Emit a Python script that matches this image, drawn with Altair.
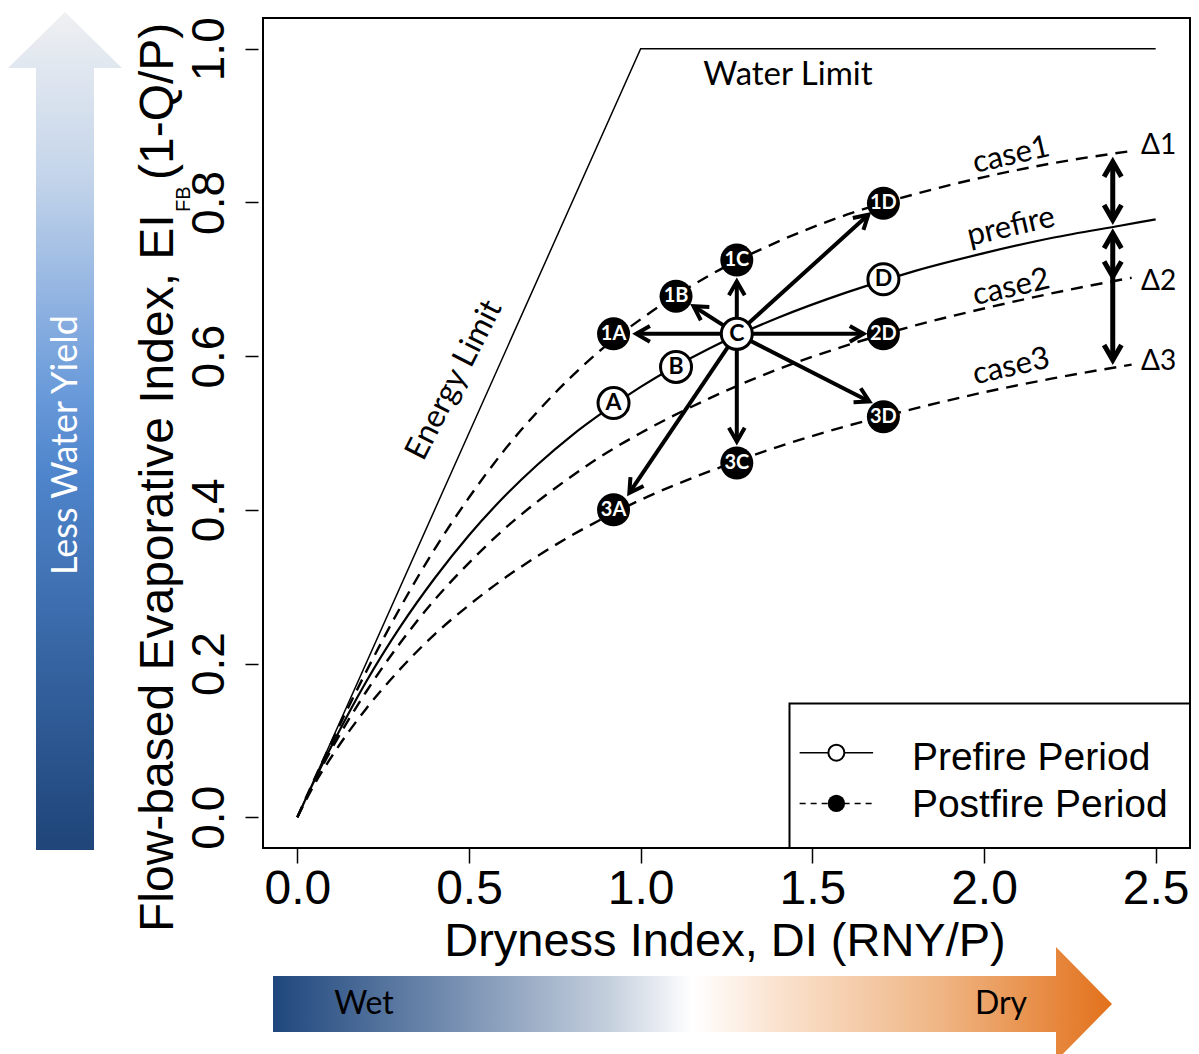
import altair as alt
import pandas as pd
import numpy as np

# ---------------- values ----------------
curve_x = [0.0, 0.05, 0.1, 0.2, 0.3, 0.4, 0.5, 0.6, 0.7, 0.8, 0.9, 1.0,
           1.2, 1.4, 1.6, 1.8, 2.0, 2.2, 2.4, 2.5]
prefire_y = [0.0, 0.048, 0.093, 0.176, 0.248, 0.311, 0.367, 0.416, 0.459, 0.497,
             0.530, 0.560, 0.610, 0.650, 0.683, 0.711, 0.734, 0.754, 0.770, 0.778]

post_x = [0.0, 0.05, 0.1, 0.2, 0.3, 0.4, 0.5, 0.6, 0.7, 0.8, 0.9, 1.0,
          1.2, 1.4, 1.6, 1.8, 2.0, 2.2, 2.43]
case1_y = [0.0, 0.050, 0.098, 0.189, 0.273, 0.349, 0.416, 0.476, 0.528, 0.574,
           0.614, 0.648, 0.705, 0.749, 0.784, 0.811, 0.833, 0.851, 0.867]
case2_y = [0.0, 0.047, 0.089, 0.163, 0.227, 0.283, 0.331, 0.374, 0.411, 0.444,
           0.474, 0.500, 0.545, 0.583, 0.614, 0.640, 0.662, 0.682, 0.702]
case3_y = [0.0, 0.043, 0.079, 0.141, 0.193, 0.238, 0.276, 0.310, 0.340, 0.367,
           0.391, 0.413, 0.450, 0.482, 0.509, 0.532, 0.553, 0.571, 0.589]

limit_x = [0.0, 1.0, 2.5]
limit_y = [0.0, 1.0, 1.0]

pre_labels = ["A", "B", "C", "D"]
pre_px = [0.921, 1.103, 1.280, 1.707]
pre_py = [0.539, 0.586, 0.629, 0.700]

post_labels = ["1A", "1B", "1C", "1D", "2D", "3A", "3C", "3D"]
post_px = [0.921, 1.103, 1.280, 1.707, 1.707, 0.921, 1.280, 1.707]
post_py = [0.629, 0.678, 0.725, 0.799, 0.629, 0.400, 0.461, 0.521]

arrow_from = (1.280, 0.629)
arrow_tip_x = [0.987, 1.154, 1.280, 1.663, 1.649, 1.666, 1.280, 0.967]
arrow_tip_y = [0.629, 0.665, 0.697, 0.784, 0.629, 0.541, 0.489, 0.422]

delta_x = 2.375
delta_top = [0.853, 0.760, 0.7035]
delta_bot = [0.777, 0.7035, 0.595]
delta_head_top = [True, True, False]

delta_labels = ["\u03941", "\u03942", "\u03943"]
delta_label_x = 2.457
delta_label_y = [0.873, 0.697, 0.593]

curve_labels = ["case1", "prefire", "case2", "case3"]
curve_label_x = 2.079
curve_label_y = [0.861, 0.768, 0.689, 0.586]

x_ticks = [0.0, 0.5, 1.0, 1.5, 2.0, 2.5]
y_ticks = [0.0, 0.2, 0.4, 0.6, 0.8, 1.0]

# ---------------- layout ----------------
W, H = 927, 830
XD = [-0.1, 2.6]
YD = [-0.04, 1.04]
OX, OY = 263, 18
SX = W / (XD[1] - XD[0])
SY = H / (YD[1] - YD[0])

AXF = "Liberation Sans"
TXF = "Lato"

xscale = alt.Scale(domain=XD, nice=False, zero=False)
yscale = alt.Scale(domain=YD, nice=False, zero=False)
xaxis = alt.Axis(values=x_ticks, format=".1f", title=None, grid=False, domain=False,
                 tickSize=15, tickWidth=1.5, tickColor="black", labelFont=AXF,
                 labelFontSize=48, labelColor="black", labelPadding=2,
                 labelFlush=False, labelOverlap=False)
yaxis = alt.Axis(values=y_ticks, format=".1f", title=None, grid=False, domain=False,
                 tickSize=13, tickWidth=1.5, tickColor="black", labelFont=AXF,
                 labelFontSize=46, labelColor="black", labelAngle=270,
                 labelAlign="center", labelBaseline="alphabetic", labelPadding=22,
                 offset=5, labelFlush=False, labelOverlap=False)


def X(f="x"):
    return alt.X(f"{f}:Q", scale=xscale, axis=xaxis)


def Y(f="y"):
    return alt.Y(f"{f}:Q", scale=yscale, axis=yaxis)


# ---------------- tables ----------------
pre_df = pd.DataFrame({"x": curve_x, "y": prefire_y})
post_df = pd.concat([
    pd.DataFrame({"x": post_x, "y": case1_y, "curve": "case1"}),
    pd.DataFrame({"x": post_x, "y": case2_y, "curve": "case2"}),
    pd.DataFrame({"x": post_x, "y": case3_y, "curve": "case3"}),
])
lim_df = pd.DataFrame({"x": limit_x, "y": limit_y})
prept_df = pd.DataFrame({"x": pre_px, "y": pre_py, "label": pre_labels})
postpt_df = pd.DataFrame({"x": post_px, "y": post_py, "label": post_labels})

ax = np.array(arrow_tip_x)
ay = np.array(arrow_tip_y)
ang = np.degrees(np.arctan2(-(ay - arrow_from[1]) * SY, (ax - arrow_from[0]) * SX)) % 360
arr_df = pd.DataFrame({"x": arrow_from[0], "y": arrow_from[1], "x2": ax, "y2": ay,
                       "angle": ang})

dshaft_df = pd.DataFrame({"x": delta_x, "y": delta_top, "y2": delta_bot})
dhead_rows = []
for t, b, ht in zip(delta_top, delta_bot, delta_head_top):
    if ht:
        dhead_rows.append({"x": delta_x, "y": t, "angle": 270})
    dhead_rows.append({"x": delta_x, "y": b, "angle": 90})
dhead_df = pd.DataFrame(dhead_rows)

dlab_df = pd.DataFrame({"x": delta_label_x, "y": delta_label_y, "label": delta_labels})
clab_df = pd.DataFrame({"x": curve_label_x, "y": curve_label_y, "label": curve_labels})

V_HEAD = "M -0.866 -0.5 L 0 0 L -0.866 0.5"

# ---------------- layers ----------------
limits = alt.Chart(lim_df).mark_line(color="black", strokeWidth=1.5).encode(x=X(), y=Y())
prefire = alt.Chart(pre_df).mark_line(color="black", strokeWidth=2.2,
                                      interpolate="monotone").encode(x=X(), y=Y())
post = alt.Chart(post_df).mark_line(color="black", strokeWidth=2.4, strokeDash=[12, 8],
                                    interpolate="monotone").encode(
    x=X(), y=Y(), detail="curve:N")

shafts = alt.Chart(arr_df).mark_rule(color="black", strokeWidth=4).encode(
    x=X(), y=Y(), x2="x2:Q", y2="y2:Q")
heads = alt.Chart(arr_df).mark_point(shape=V_HEAD, size=1000, filled=False, color="black",
                                     strokeWidth=4, opacity=1, strokeJoin="miter").encode(
    x=X("x2"), y=Y("y2"), angle=alt.Angle("angle:Q", scale=None))

dshafts = alt.Chart(dshaft_df).mark_rule(color="black", strokeWidth=5).encode(
    x=X(), y=Y(), y2="y2:Q")
dheads = alt.Chart(dhead_df).mark_point(shape=V_HEAD, size=1200, filled=False,
                                        color="black", strokeWidth=5, opacity=1,
                                        strokeJoin="miter").encode(
    x=X(), y=Y(), angle=alt.Angle("angle:Q", scale=None))

post_circ = alt.Chart(postpt_df).mark_circle(size=1089, color="black", opacity=1).encode(
    x=X(), y=Y())
post_txt = alt.Chart(postpt_df).mark_text(font=TXF, fontWeight="bold", fontSize=20,
                                          color="white", baseline="middle").encode(
    x=X(), y=Y(), text="label:N")
pre_circ = alt.Chart(prept_df).mark_circle(size=961, fill="white", stroke="black",
                                           strokeWidth=3, opacity=1).encode(x=X(), y=Y())
pre_txt = alt.Chart(prept_df).mark_text(font=TXF, fontWeight="bold", fontSize=23,
                                        color="black", baseline="middle").encode(
    x=X(), y=Y(), text="label:N")

water_txt = alt.Chart(pd.DataFrame({"x": [1.429], "y": [0.966], "t": ["Water Limit"]})).mark_text(
    font=TXF, fontSize=33, color="black", baseline="middle").encode(x=X(), y=Y(), text="t:N")
energy_txt = alt.Chart(pd.DataFrame({"x": [0.456], "y": [0.569], "t": ["Energy Limit"]})).mark_text(
    font=TXF, fontSize=32, color="black", baseline="middle", angle=297).encode(
    x=X(), y=Y(), text="t:N")
clab = alt.Chart(clab_df).mark_text(font=TXF, fontSize=31, color="black", baseline="middle",
                                    angle=347).encode(x=X(), y=Y(), text="label:N")
dlab = alt.Chart(dlab_df).mark_text(font=TXF, fontSize=28, color="black", baseline="middle",
                                    align="left").encode(x=X(), y=Y(), text="label:N")

# legend (inside the plot, in data units)
leg_box = alt.Chart(pd.DataFrame({"x": [1.4335], "x2": [2.6], "y": [-0.04], "y2": [0.148]})).mark_rect(
    fill="white", stroke="black", strokeWidth=2).encode(x=X(), x2="x2:Q", y=Y(), y2="y2:Q")
leg_solid = alt.Chart(pd.DataFrame({"x": [1.463], "x2": [1.677], "y": [0.084]})).mark_rule(
    color="black", strokeWidth=1.5).encode(x=X(), x2="x2:Q", y=Y())
leg_dash = alt.Chart(pd.DataFrame({"x": [1.463], "x2": [1.677], "y": [0.018]})).mark_rule(
    color="black", strokeWidth=1.5, strokeDash=[6, 5]).encode(x=X(), x2="x2:Q", y=Y())
leg_open = alt.Chart(pd.DataFrame({"x": [1.570], "y": [0.084]})).mark_circle(
    size=256, fill="white", stroke="black", strokeWidth=2, opacity=1).encode(x=X(), y=Y())
leg_fill = alt.Chart(pd.DataFrame({"x": [1.570], "y": [0.018]})).mark_circle(
    size=300, color="black", opacity=1).encode(x=X(), y=Y())
leg_txt = alt.Chart(pd.DataFrame({"x": [1.790, 1.790], "y": [0.077, 0.016],
                                  "t": ["Prefire Period", "Postfire Period"]})).mark_text(
    font=AXF, fontSize=39, color="black", align="left", baseline="middle").encode(
    x=X(), y=Y(), text="t:N")

# ---------------- decorations outside the plot (page pixels) ----------------
one = pd.DataFrame({"k": [0]})


def page_text(txt, px, py, **kw):
    return alt.Chart(one).mark_text(text=txt, **kw).encode(
        x=alt.value(px - OX), y=alt.value(py - OY))


x_title = page_text("Dryness Index, DI (RNY/P)", 725, 956, font=AXF, fontSize=47,
                    color="black", align="center", baseline="alphabetic")
y_title1 = page_text("Flow-based Evaporative Index, EI", 173, 932, font=AXF, fontSize=48,
                     color="black", align="left", baseline="alphabetic", angle=270)
y_title2 = page_text("FB", 190, 212, font=AXF, fontSize=20, color="black",
                     align="left", baseline="alphabetic", angle=270)
y_title3 = page_text("(1-Q/P)", 173, 180, font=AXF, fontSize=48, color="black",
                     align="left", baseline="alphabetic", angle=270)

up_grad = alt.LinearGradient(
    gradient="linear", x1=0, y1=0, x2=0, y2=1,
    stops=[alt.GradientStop(color="#eff0f2", offset=0),
           alt.GradientStop(color="#c3d4ea", offset=0.2),
           alt.GradientStop(color="#6b9bda", offset=0.45),
           alt.GradientStop(color="#4f85cc", offset=0.55),
           alt.GradientStop(color="#33609d", offset=0.8),
           alt.GradientStop(color="#1f4579", offset=1)])
right_grad = alt.LinearGradient(
    gradient="linear", x1=0, y1=0, x2=1, y2=0,
    stops=[alt.GradientStop(color="#1f477d", offset=0),
           alt.GradientStop(color="#6f89ad", offset=0.2),
           alt.GradientStop(color="#c4cfdd", offset=0.4),
           alt.GradientStop(color="#ffffff", offset=0.5),
           alt.GradientStop(color="#fae3cf", offset=0.6),
           alt.GradientStop(color="#efb482", offset=0.8),
           alt.GradientStop(color="#e2711b", offset=1)])

UP_ARROW = "M 36 850 L 36 68 L 8 68 L 65 12 L 122 68 L 94 68 L 94 850 Z"
RIGHT_ARROW = "M 273 976 L 1056 976 L 1056 947 L 1112 1004 L 1056 1061 L 1056 1032 L 273 1032 Z"

up_arrow = alt.Chart(one).mark_point(shape=UP_ARROW, size=4, filled=True, fill=up_grad,
                                     opacity=1, strokeOpacity=0).encode(
    x=alt.value(-OX), y=alt.value(-OY))
right_arrow = alt.Chart(one).mark_point(shape=RIGHT_ARROW, size=4, filled=True,
                                        fill=right_grad, opacity=1, strokeOpacity=0).encode(
    x=alt.value(-OX), y=alt.value(-OY))

less_txt = page_text("Less Water Yield", 66, 445, font=TXF, fontSize=36, color="white",
                     align="center", baseline="middle", angle=270)
wet_txt = page_text("Wet", 364, 1004, font=TXF, fontSize=32, color="black",
                    align="center", baseline="middle")
dry_txt = page_text("Dry", 1001, 1004, font=TXF, fontSize=32, color="black",
                    align="center", baseline="middle")

chart = alt.layer(
    limits, prefire, post, shafts, heads, dshafts, dheads,
    post_circ, post_txt, pre_circ, pre_txt,
    water_txt, energy_txt, clab, dlab,
    leg_box, leg_solid, leg_dash, leg_open, leg_fill, leg_txt,
    up_arrow, right_arrow, less_txt, wet_txt, dry_txt,
    x_title, y_title1, y_title2, y_title3,
).properties(
    width=W, height=H,
    padding={"left": OX, "top": OY, "right": 1199 - OX - W, "bottom": 1054 - OY - H},
    autosize=alt.AutoSizeParams(type="none"),
    background="white",
).configure_view(stroke="black", strokeWidth=2)

chart.save("out.html", embed_options={"renderer": "svg", "actions": False})
